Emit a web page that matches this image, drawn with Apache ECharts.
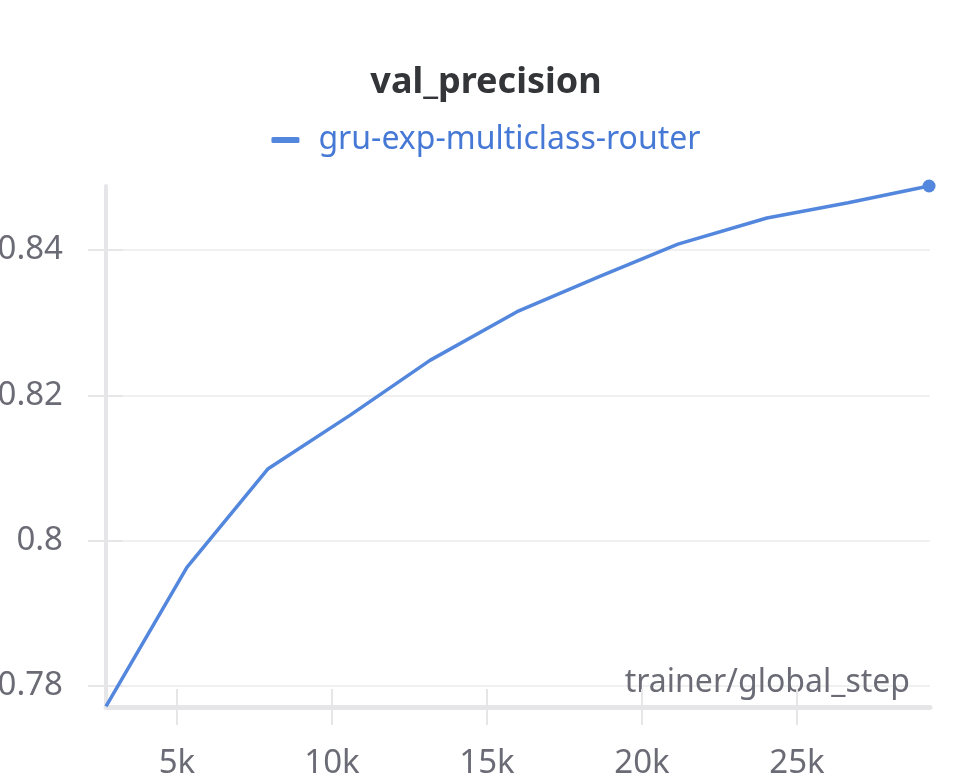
<!DOCTYPE html>
<html>
<head>
<meta charset="utf-8">
<script src="https://cdn.jsdelivr.net/npm/echarts@6/dist/echarts.min.js"></script>
<style>
  html, body { margin: 0; padding: 0; background: #fff; }
  #chart { width: 972px; height: 783px; }
</style>
</head>
<body>
<div id="chart"></div>
<script>
  // values
  const steps = [2710, 5320, 7940, 10600, 13160, 15970, 18600, 21160, 24030, 26650, 29260];
  const precision = [0.7772, 0.7963, 0.8099, 0.8173, 0.8248, 0.8315, 0.8363, 0.8408, 0.8444, 0.8465, 0.8488];
  const xTicks = [5000, 10000, 15000, 20000, 25000];
  const yTicks = [0.78, 0.8, 0.82, 0.84];
  const runName = 'gru-exp-multiclass-router';

  const font = 'Noto Sans';
  const gray = '#6b6b76';
  const axisGray = '#e6e6e9';
  const lineBlue = '#5387dd';

  const chart = echarts.init(document.getElementById('chart'));
  const last = steps.length - 1;

  chart.setOption({
    animation: false,
    title: {
      text: 'val_precision',
      left: 'center',
      top: 60,
      textStyle: { fontFamily: font, fontSize: 36, fontWeight: 'bold', color: '#333539' }
    },
    legend: {
      top: 119,
      left: 'center',
      icon: 'roundRect',
      itemWidth: 28,
      itemHeight: 6,
      textStyle: { fontFamily: font, fontSize: 32, color: '#4679d6', padding: [0, 0, 0, 14] },
      data: [runName]
    },
    grid: { left: 106, right: 42, top: 186, bottom: 76, outerBoundsMode: 'none', containLabel: false },
    xAxis: [
      {
        type: 'value',
        min: 2710,
        max: 29290,
        axisLine: { show: true, lineStyle: { color: axisGray, width: 5 } },
        axisTick: { show: true, length: 18, customValues: xTicks, lineStyle: { color: axisGray, width: 2 } },
        axisLabel: {
          customValues: xTicks,
          margin: 40,
          fontFamily: font, fontSize: 33, color: gray,
          formatter: v => (v / 1000) + 'k'
        },
        splitLine: { show: false },
        name: 'trainer/global_step',
        nameLocation: 'end',
        nameGap: -20,
        nameTextStyle: { fontFamily: font, fontSize: 32, color: gray, align: 'right', verticalAlign: 'bottom', padding: [0, 0, 8, 0] }
      },
      {
        // upper half of the x ticks
        type: 'value',
        min: 2710,
        max: 29290,
        position: 'bottom',
        axisLine: { show: false },
        axisTick: { show: true, inside: true, length: 18, customValues: xTicks, lineStyle: { color: axisGray, width: 2 } },
        axisLabel: { show: false },
        splitLine: { show: false }
      }
    ],
    yAxis: [
      {
        type: 'value',
        min: 0.7771,
        max: 0.8488,
        axisLine: { show: true, lineStyle: { color: axisGray, width: 4 } },
        axisTick: { show: true, length: 18, customValues: yTicks, lineStyle: { color: axisGray, width: 2 } },
        axisLabel: {
          customValues: yTicks,
          margin: 43,
          fontFamily: font, fontSize: 33, color: gray
        },
        splitLine: { show: true, lineStyle: { color: '#ebebeb', width: 1.5 } }
      },
      {
        type: 'value',
        min: 0.7771,
        max: 0.8488,
        position: 'left',
        axisLine: { show: false },
        axisTick: { show: true, inside: true, length: 17, customValues: yTicks, lineStyle: { color: axisGray, width: 2 } },
        axisLabel: { show: false },
        splitLine: { show: false }
      }
    ],
    series: [
      {
        name: runName,
        type: 'line',
        data: steps.map((s, i) => [s, precision[i]]),
        symbol: 'circle',
        symbolSize: (v, p) => (p.dataIndex === last ? 13 : 0),
        clip: false,
        lineStyle: { color: lineBlue, width: 3.5 },
        itemStyle: { color: lineBlue }
      }
    ]
  });
</script>
</body>
</html>
